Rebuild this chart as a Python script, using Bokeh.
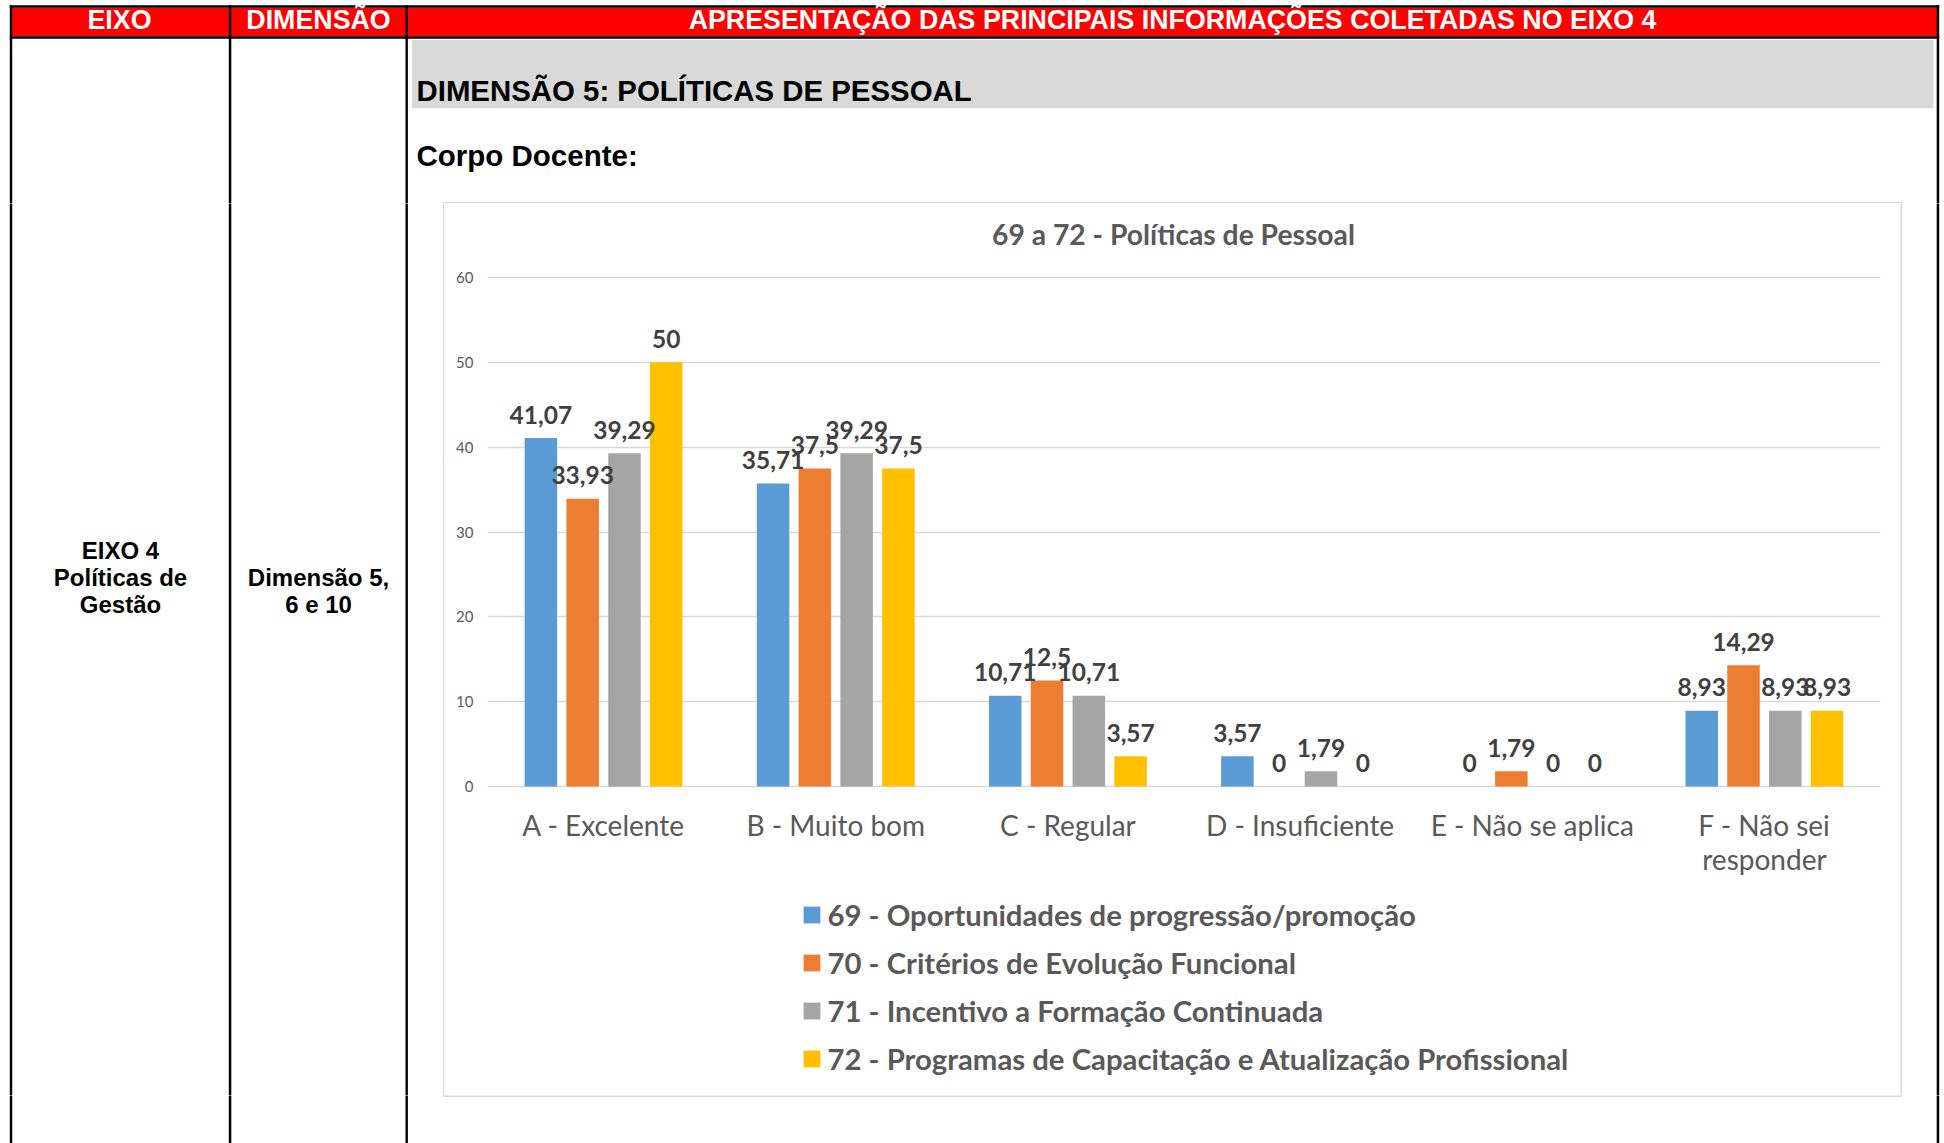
from bokeh.plotting import figure
from bokeh.layouts import column, row
from bokeh.models import (ColumnDataSource, FactorRange, Range1d, Label,
                          Legend, LegendItem)
from bokeh.transform import dodge
from bokeh.core.properties import value
from bokeh.embed import file_html
from bokeh.resources import INLINE

# ---------------- data ----------------
categories = ["A - Excelente", "B - Muito bom", "C - Regular", "D - Insuficiente",
              "E - Não se aplica", "F - Não sei responder"]
category_line1 = ["A - Excelente", "B - Muito bom", "C - Regular", "D - Insuficiente",
                  "E - Não se aplica", "F - Não sei"]
category_line2 = ["", "", "", "", "", "responder"]
series_names = ["69 - Oportunidades de progressão/promoção",
                "70 - Critérios de Evolução Funcional",
                "71 - Incentivo a Formação Continuada",
                "72 - Programas de Capacitação e Atualização Profissional"]
s69 = [41.07, 35.71, 10.71, 3.57, 0, 8.93]
s70 = [33.93, 37.5, 12.5, 0, 1.79, 14.29]
s71 = [39.29, 39.29, 10.71, 1.79, 0, 8.93]
s72 = [50, 37.5, 3.57, 0, 0, 8.93]
y_ticks = [0, 10, 20, 30, 40, 50, 60]

chart_title = "69 a 72 - Políticas de Pessoal"
header_texts = ["EIXO", "DIMENSÃO", "APRESENTAÇÃO DAS PRINCIPAIS INFORMAÇÕES COLETADAS NO EIXO 4"]
section_title = "DIMENSÃO 5: POLÍTICAS DE PESSOAL"
subsection_title = "Corpo Docente:"
eixo_lines = ["EIXO 4", "Políticas de", "Gestão"]
dim_lines = ["Dimensão 5,", "6 e 10"]

colors = ["#5B9BD5", "#ED7D31", "#A5A5A5", "#FFC000"]
offsets = [-0.27, -0.09, 0.09, 0.27]


def fmt(v):
    return f"{v:g}".replace(".", ",")


# ---------------- page geometry (px, page coords) ----------------
PX0, PX1, PY0, PY1 = 0, 1944, 0, 1143        # whole layout
CX0, CX1, CY0, CY1 = 444, 1900, 203, 1095    # chart figure (inside its border)
FL, FR = 487, 1880                          # plot area left/right
Y_ZERO, Y_TOP = 786, 277                     # page y of 0 and 60
BORDER = "#D9D9D9"
GRAY_TXT = "#595959"
BL = 0.39                                    # baseline correction (fraction of font size)
EXT = 3                                      # overdraw past figure edges


def deco(x0, x1, y0, y1):
    f = figure(width=int(round(x1 - x0)), height=int(round(y1 - y0)),
               x_range=Range1d(x0, x1), y_range=Range1d(y1, y0),
               output_backend="svg", toolbar_location=None, min_border=0,
               x_axis_location=None, y_axis_location=None)
    f.grid.grid_line_color = None
    f.outline_line_color = None
    f.background_fill_color = "white"
    f.border_fill_color = "white"
    return f


def box(f, x0, y0, x1, y1, color):
    f.quad(left=[x0], right=[x1], top=[y0], bottom=[y1], fill_color=color, line_color=None)


def txt(f, x, y, text, size, color="black", align="left", font="Liberation Sans"):
    f.text(x=[x], y=[y - BL * size], text=[text], text_font=value(font),
           text_font_style="bold", text_font_size=f"{size}px", text_color=color,
           text_align=align, text_baseline="alphabetic")


col_lines = [(9.3, 11.7), (228.3, 230.8), (405.0, 407.4)]
right_line = (1936.2, 1938.7)

# ---- top figure ----
T = deco(PX0, PX1, PY0, CY0)
box(T, 10.5, 7.3, 1937.5, 35.7, "#FF0000")
box(T, 9.3, 4.8, 1938.7, 7.3, "black")
box(T, 9.3, 35.7, 1938.7, 38.3, "black")
for xa, xb in col_lines + [right_line]:
    box(T, xa, 4.8, xb, CY0 + EXT, "black")
box(T, 411.5, 39.5, 1933, 107.7, "#D9D9D9")
box(T, 442.5, 201.5, 1901.5, CY0 + EXT, BORDER)
txt(T, 119, 30, header_texts[0], 26.8, color="white", align="center")
txt(T, 318, 30, header_texts[1], 26.8, color="white", align="center")
txt(T, 1172, 30, header_texts[2], 26.8, color="white", align="center")
txt(T, 416, 101, section_title, 29.4)
txt(T, 416, 166.5, subsection_title, 29.5)

# ---- left figure (beside the chart) ----
L = deco(PX0, CX0, CY0, CY1)
for xa, xb in col_lines:
    box(L, xa, CY0 - EXT, xb, CY1 + EXT, "black")
box(L, 442.5, CY0 - EXT, CX0 + EXT, CY1 + EXT, BORDER)
for i, t in enumerate(eixo_lines):
    txt(L, 120, 559 + 27 * i, t, 24, align="center")
for i, t in enumerate(dim_lines):
    txt(L, 318, 586.5 + 26.5 * i, t, 24, align="center")

# ---- right figure (beside the chart) ----
R = deco(CX1, PX1, CY0, CY1)
box(R, CX1 - EXT, CY0 - EXT, 1901.5, CY1 + EXT, BORDER)
box(R, right_line[0], CY0 - EXT, right_line[1], CY1 + EXT, "black")

# ---- bottom strip, full width ----
B = deco(PX0, PX1, CY1, PY1)
for xa, xb in col_lines + [right_line]:
    box(B, xa, CY1 - EXT, xb, PY1 + EXT, "black")
box(B, 442.5, CY1 - EXT, 1901.5, 1096.5, BORDER)

# ---- chart ----
ppu = (Y_ZERO - Y_TOP) / 60.0
y_lo = -(CY1 - Y_ZERO) / ppu
y_hi = (Y_ZERO - CY0) / ppu

src = ColumnDataSource(dict(
    cat=categories, line1=category_line1, line2=category_line2, zero=[0] * len(categories),
    s69=s69, s70=s70, s71=s71, s72=s72,
    l69=[fmt(v) for v in s69], l70=[fmt(v) for v in s70],
    l71=[fmt(v) for v in s71], l72=[fmt(v) for v in s72],
))

C = figure(width=CX1 - CX0, height=CY1 - CY0, x_range=FactorRange(factors=categories),
           y_range=Range1d(y_lo, y_hi), output_backend="svg", toolbar_location=None,
           x_axis_location=None, min_border_left=FL - CX0, min_border_right=CX1 - FR,
           min_border_top=0, min_border_bottom=0)
C.outline_line_color = None
C.background_fill_color = "white"
C.border_fill_color = "white"
C.xgrid.grid_line_color = None
C.ygrid.grid_line_color = "#D9D9D9"
C.ygrid.grid_line_width = 1.5
C.yaxis.ticker = y_ticks
C.yaxis.axis_line_color = None
C.yaxis.major_tick_line_color = None
C.yaxis.minor_tick_line_color = None
C.yaxis.major_tick_in = 0
C.yaxis.major_tick_out = 0
C.yaxis.major_label_standoff = 14
C.yaxis.major_label_text_font = "Lato"
C.yaxis.major_label_text_font_size = "15px"
C.yaxis.major_label_text_color = GRAY_TXT

keys = ["69", "70", "71", "72"]
renderers = []
for k, off, col in zip(keys, offsets, colors):
    r = C.vbar(x=dodge("cat", off, range=C.x_range), top="s" + k, width=0.14,
               source=src, fill_color=col, line_color=None)
    renderers.append(r)

# data labels drawn after all bars so they sit on top
DL = 24.5
for k, off in zip(keys, offsets):
    C.text(x=dodge("cat", off, range=C.x_range), y="s" + k, text="l" + k, source=src,
           text_align="center", text_baseline="alphabetic", y_offset=-14 - BL * DL,
           text_font=value("Lato"), text_font_style="bold", text_font_size=f"{DL}px",
           text_color="#404040")

# category labels below the zero line
CL = 28
C.text(x="cat", y="zero", text="line1", source=src, text_align="center",
       text_baseline="alphabetic", y_offset=49 - BL * CL, text_font=value("Lato"),
       text_font_size=f"{CL}px", text_color=GRAY_TXT)
C.text(x="cat", y="zero", text="line2", source=src, text_align="center",
       text_baseline="alphabetic", y_offset=83.5 - BL * CL, text_font=value("Lato"),
       text_font_size=f"{CL}px", text_color=GRAY_TXT)

# title
TS = 28.25
C.add_layout(Label(x=1173 - FL, y=CY1 - (244.3 - BL * TS), x_units="screen", y_units="screen",
                   text=chart_title, text_font="Lato", text_font_style="bold",
                   text_font_size=f"{TS}px", text_color=GRAY_TXT, text_align="center",
                   text_baseline="alphabetic"))

# legend: items centred on the squares (square centre of first row at page y ~914.5)
ITEM_H, SPACING = 37, 11
leg_h = 4 * ITEM_H + 3 * SPACING
leg_top = 914.5 - ITEM_H / 2
legend = Legend(items=[LegendItem(label=n, renderers=[r]) for n, r in zip(series_names, renderers)],
                location=(800.5 - FL, CY1 - (leg_top + leg_h)), orientation="vertical",
                glyph_width=21, glyph_height=21, label_height=ITEM_H, spacing=SPACING,
                label_standoff=6, padding=0, margin=0,
                border_line_color=None, background_fill_alpha=0,
                label_text_font="Lato", label_text_font_style="bold",
                label_text_font_size="29.3px", label_text_color=GRAY_TXT)
C.add_layout(legend)

layout = column(T, row(L, C, R), B)
open("out.html", "w").write(file_html(layout, INLINE))
